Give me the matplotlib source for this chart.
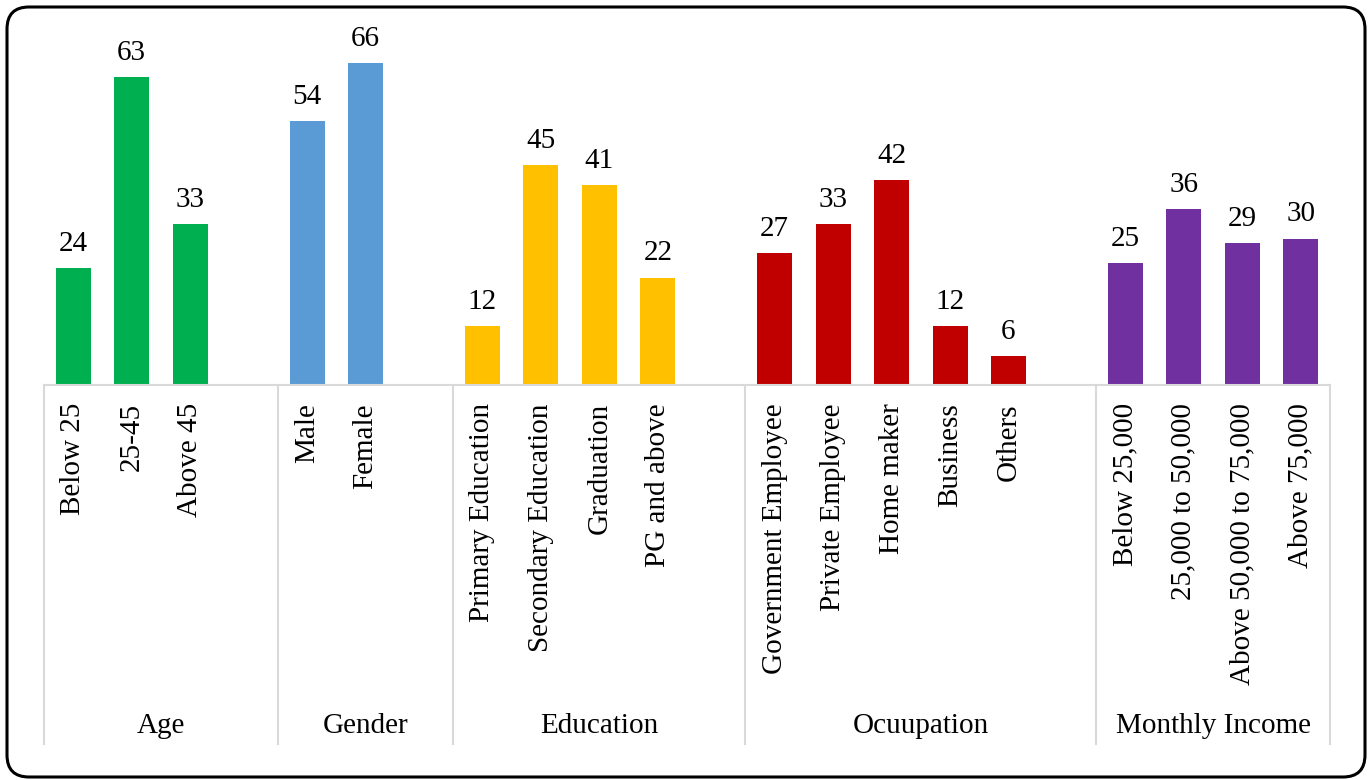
import matplotlib.pyplot as plt
from matplotlib.patches import FancyBboxPatch
from matplotlib.transforms import blended_transform_factory

plt.rcParams['font.family'] = ['Liberation Serif', 'DejaVu Serif']

groups = ['Age', 'Gender', 'Education', 'Ocuupation', 'Monthly Income']
age_labels = ['Below 25', '25-45', 'Above 45']
age_values = [24, 63, 33]
gender_labels = ['Male', 'Female']
gender_values = [54, 66]
edu_labels = ['Primary Education', 'Secondary Education', 'Graduation', 'PG and above']
edu_values = [12, 45, 41, 22]
occ_labels = ['Government Employee', 'Private Employee', 'Home maker', 'Business', 'Others']
occ_values = [27, 33, 42, 12, 6]
inc_labels = ['Below 25,000', '25,000 to 50,000', 'Above 50,000 to 75,000', 'Above 75,000']
inc_values = [25, 36, 29, 30]
colors = ['#00B050', '#5B9BD5', '#FFC000', '#C00000', '#7030A0']

all_labels = [age_labels, gender_labels, edu_labels, occ_labels, inc_labels]
all_values = [age_values, gender_values, edu_values, occ_values, inc_values]

fs = 21
fig = plt.figure(figsize=(13.69, 7.80), dpi=100)
ax = fig.add_axes([44 / 1369, 1 - 385 / 780, (1330 - 44) / 1369, 355 / 780])

grid_col = '#D9D9D9'
tick_pos, tick_lab = [], []
bounds = [-0.5]
pos = 0
for g, (labs, vals, c) in enumerate(zip(all_labels, all_values, colors)):
    xs = list(range(pos, pos + len(vals)))
    bars = ax.bar(xs, vals, width=0.6, color=c)
    for b, v in zip(bars, vals):
        ax.annotate(str(v), (b.get_x() + b.get_width() / 2, v), xytext=(0, 8),
                    textcoords='offset points', ha='center', va='bottom', fontsize=fs)
    tick_pos += xs
    tick_lab += labs
    # empty slot after each group except the last
    pos += len(vals) + (1 if g < len(groups) - 1 else 0)
    bounds.append(pos - 0.5)

ax.set_xlim(-0.5, pos - 0.5)
ax.set_ylim(0, 72.7)
ax.set_xticks(tick_pos)
ax.set_xticklabels(tick_lab, rotation=90, fontsize=fs)
ax.tick_params(axis='x', length=0, pad=13)
ax.set_yticks([])
for s in ['top', 'left', 'right']:
    ax.spines[s].set_visible(False)
ax.spines['bottom'].set_color(grid_col)
ax.spines['bottom'].set_linewidth(1.5)

trans = blended_transform_factory(ax.transData, ax.transAxes)
for x in bounds:
    ax.plot([x, x], [0, -1.011], color=grid_col, lw=1.5, transform=trans, clip_on=False)
for name, lo, hi in zip(groups, bounds[:-1], bounds[1:]):
    ax.text((lo + hi) / 2, -0.961, name, transform=trans, ha='center', va='center',
            fontsize=fs)

# rounded frame around the whole picture
frame = FancyBboxPatch((7, 3), 1358, 770, boxstyle='round,pad=0,rounding_size=22',
                       transform=None, fill=False, edgecolor='black', lw=2.2)
fig.patches.append(frame)

fig.savefig('out.png', dpi=100)
